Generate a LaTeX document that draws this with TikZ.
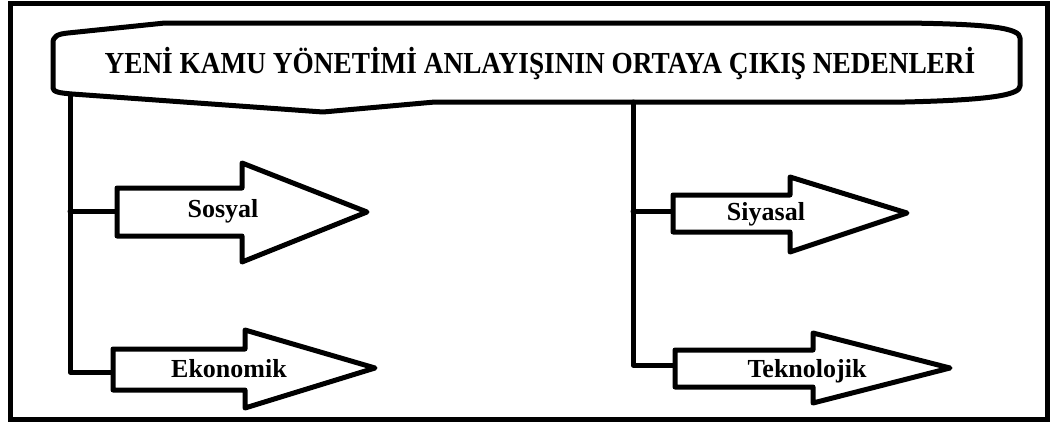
\documentclass[tikz,border=0pt]{standalone}
\usepackage{fontspec}
\setmainfont{Liberation Serif}
\begin{document}
\begin{tikzpicture}[x=1pt,y=-1pt,
  thick line/.style={line width=5pt,line join=round,line cap=round},
  arrowbox/.style={thick line,fill=white},
  lbl/.style={font=\bfseries\fontsize{26}{28}\selectfont,inner sep=0pt,anchor=base},
  ttl/.style={font=\bfseries\fontsize{27.3}{30}\selectfont,inner sep=0pt,anchor=base}]
\useasboundingbox (0,0) rectangle (1051,423);
\fill[white] (0,0) rectangle (1051,423);
% outer frame
\draw[line width=5pt] (10,3.5) rectangle (1047.5,419.5);
% banner
\draw[thick line,fill=white] (53,88) -- (53,43) .. controls (53,36) and (58,34) .. (68,33)
  -- (165,23) -- (905,23) .. controls (990,24) and (1020,28) .. (1020,38)
  -- (1020,86) .. controls (1020,95) and (990,100) .. (905,102)
  -- (435,102) -- (323,112) -- (72,94) .. controls (60,93) and (53,92) .. (53,88) -- cycle;
\node[ttl] (title) at (540,73) {\scalebox{1}[1.12]{YENİ KAMU YÖNETİMİ ANLAYIŞININ ORTAYA ÇIKIŞ NEDENLERİ}};
% coordinates for connectors
\coordinate (ltop) at (70,96);
\coordinate (lmid) at (70,211);
\coordinate (lbot) at (70,372);
\coordinate (rtop) at (633,102);
\coordinate (rmid) at (633,211);
\coordinate (rbot) at (633,365);
\coordinate (sostail) at (117,211);
\coordinate (ekotail) at (113,372);
\coordinate (siytail) at (673,211);
\coordinate (tektail) at (675,365);
% connectors
\draw[thick line] (ltop) -- (lbot) -- (ekotail);
\draw[thick line] (lmid) -- (sostail);
\draw[thick line] (rtop) -- (rbot) -- (tektail);
\draw[thick line] (rmid) -- (siytail);
% arrows
\draw[arrowbox] (117,188) -- (242,188) -- (242,163) -- (367,212) -- (242,262) -- (242,236) -- (117,236) -- cycle;
\draw[arrowbox] (113,349) -- (245,349) -- (245,330) -- (375,368) -- (245,408) -- (245,390) -- (113,390) -- cycle;
\draw[arrowbox] (673,195) -- (790,195) -- (790,177) -- (907,213) -- (790,252) -- (790,232) -- (673,232) -- cycle;
\draw[arrowbox] (675,350) -- (813,350) -- (813,333) -- (950,368) -- (813,403) -- (813,387) -- (675,387) -- cycle;
% labels
\node[lbl] (sosyal) at (223,217) {Sosyal};
\node[lbl] (ekonomik) at (229,377) {Ekonomik};
\node[lbl] (siyasal) at (766,220) {Siyasal};
\node[lbl] (teknolojik) at (807,377) {Teknolojik};
\end{tikzpicture}
\end{document}
